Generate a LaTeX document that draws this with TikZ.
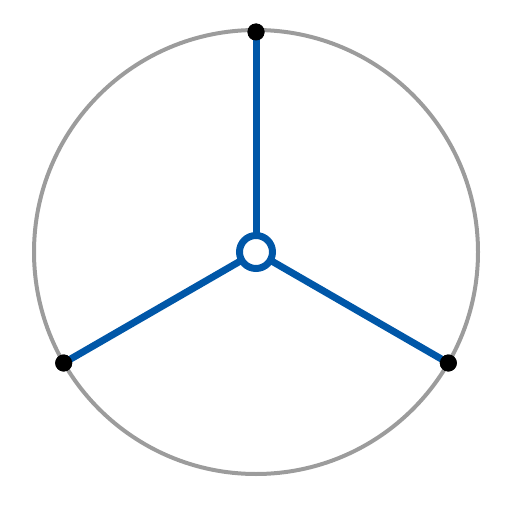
\documentclass[tikz,border=0pt]{standalone}
\definecolor{spoke}{HTML}{0057A8}
\definecolor{rim}{HTML}{9C9C9C}
\tikzset{
  spokeline/.style={draw=spoke, line width=7pt},
  hub/.style={circle, draw=spoke, fill=white, line width=7pt, minimum size=33pt, inner sep=0pt},
  tip/.style={circle, fill=black, minimum size=17pt, inner sep=0pt},
}
\begin{document}
\begin{tikzpicture}[x=1pt,y=-1pt]
\useasboundingbox (0,0) rectangle (511,519);
\node[circle, draw=rim, line width=4pt, minimum size=444pt, inner sep=0pt] (rimc) at (256,252) {};
\coordinate (c) at (256,252);
\node[tip] (t1) at (256,32) {};
\node[tip] (t2) at (63.7,363) {};
\node[tip] (t3) at (448.3,363) {};
\draw[spokeline] (c) -- (t1.center);
\draw[spokeline] (c) -- (t2.center);
\draw[spokeline] (c) -- (t3.center);
\node[tip] at (t1) {};
\node[tip] at (t2) {};
\node[tip] at (t3) {};
\node[hub] (h) at (c) {};
\end{tikzpicture}
\end{document}
